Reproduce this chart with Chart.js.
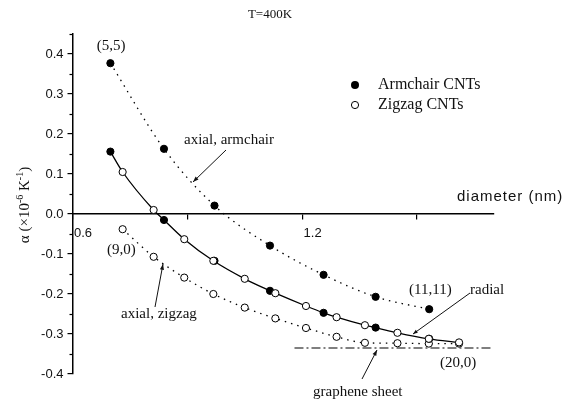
<!DOCTYPE html>
<html><head><meta charset="utf-8">
<script src="https://cdn.jsdelivr.net/npm/chart.js@4.4.0/dist/chart.umd.min.js"></script>
<style>html,body{margin:0;padding:0;background:#fff}#wrap{width:574px;height:402px}</style>
</head><body><div id="wrap"><canvas id="c" width="574" height="402"></canvas></div>
<script>
// ---- data ----
const armchairDiameter = [0.699, 0.839, 0.971, 1.116, 1.256, 1.392, 1.532];
const armchairAxial    = [0.377, 0.163, 0.021, -0.079, -0.152, -0.207, -0.238];
const armchairRadial   = [0.156, -0.015, -0.117, -0.192, -0.247, -0.284, -0.312];
const zigzagDiameter   = [0.731, 0.812, 0.892, 0.968, 1.050, 1.130, 1.210, 1.290, 1.364, 1.449, 1.531, 1.610];
const zigzagRadial     = [0.105, 0.010, -0.063, -0.117, -0.162, -0.198, -0.230, -0.258, -0.278, -0.297, -0.312, -0.321];
const zigzagAxial      = [-0.038, -0.107, -0.159, -0.200, -0.234, -0.261, -0.285, -0.307, -0.322, -0.323, -0.324, -0.324];
const grapheneDiameter = [1.18, 1.70];
const grapheneValue    = [-0.335, -0.335];
const xLabeledTicks    = [0.6, 1.2];
const yMinorTicks      = [-0.35, -0.25, -0.15, -0.05, 0.05, 0.15, 0.25, 0.35, 0.45];

const pts = (xs, ys) => xs.map((x, i) => ({x, y: ys[i]}));
// one smooth radial curve through both tube families
const radialAll = pts(armchairDiameter, armchairRadial).concat(pts(zigzagDiameter, zigzagRadial))
  .sort((a, b) => a.x - b.x)
  .filter((p, i, arr) => i === 0 || p.x - arr[i - 1].x > 0.01);

const SERIF = '"Liberation Serif", "Times New Roman", serif';
const SANS = '"Liberation Sans", Arial, sans-serif';

function arrow(ctx, x1, y1, x2, y2, head) {
  ctx.beginPath(); ctx.moveTo(x1, y1); ctx.lineTo(x2, y2); ctx.stroke();
  if (!head) return;
  const a = Math.atan2(y2 - y1, x2 - x1);
  ctx.beginPath();
  ctx.moveTo(x2, y2);
  ctx.lineTo(x2 - head * Math.cos(a - 0.35), y2 - head * Math.sin(a - 0.35));
  ctx.lineTo(x2 - head * Math.cos(a + 0.35), y2 - head * Math.sin(a + 0.35));
  ctx.closePath(); ctx.fill();
}

const annotations = {
  id: 'annotations',
  afterDraw(chart) {
    const ctx = chart.ctx;
    const ys = chart.scales.y;
    const axisX = chart.chartArea.left;
    ctx.save();
    ctx.strokeStyle = '#000'; ctx.fillStyle = '#000'; ctx.lineWidth = 1.2;
    // minor y ticks
    yMinorTicks.forEach(v => {
      const py = Math.round(ys.getPixelForValue(v)) + 0.5;
      ctx.beginPath(); ctx.moveTo(axisX - 3, py); ctx.lineTo(axisX, py); ctx.stroke();
    });
    ctx.fillStyle = '#111';
    ctx.textBaseline = 'middle';
    ctx.textAlign = 'center';
    ctx.font = '13px ' + SERIF;
    ctx.fillText('T=400K', 270, 15);
    ctx.font = '15px ' + SERIF;
    ctx.fillText('(5,5)', 111, 46);
    ctx.textAlign = 'left';
    ctx.fillText('axial, armchair', 184, 140);
    ctx.fillText('(9,0)', 107, 250);
    ctx.fillText('axial, zigzag', 121, 314);
    ctx.fillText('(11,11)', 409, 290);
    ctx.fillText('radial', 470, 290);
    ctx.fillText('(20,0)', 440, 363);
    ctx.fillText('graphene sheet', 313, 392);
    // arrows
    ctx.lineWidth = 1; ctx.strokeStyle = '#111';
    arrow(ctx, 226, 150, 193, 182, 6);
    arrow(ctx, 155, 307, 163, 264, 6);
    arrow(ctx, 470, 293, 413, 334, 5);
    arrow(ctx, 362, 379, 377, 350, 6);
    // x axis title
    ctx.font = '15px ' + SANS;
    try { ctx.letterSpacing = '1px'; } catch (e) {}
    ctx.fillText('diameter (nm)', 457, 197);
    try { ctx.letterSpacing = '0px'; } catch (e) {}
    // legend
    ctx.font = '16px ' + SERIF;
    ctx.beginPath(); ctx.arc(355, 85, 4, 0, Math.PI * 2); ctx.fillStyle = '#000'; ctx.fill();
    ctx.beginPath(); ctx.arc(355, 105, 3.6, 0, Math.PI * 2); ctx.fillStyle = '#fff'; ctx.fill();
    ctx.lineWidth = 1; ctx.strokeStyle = '#000'; ctx.stroke();
    ctx.fillStyle = '#111';
    ctx.fillText('Armchair CNTs', 378, 85);
    ctx.fillText('Zigzag CNTs', 378, 105);
    // y axis title (rotated, with superscripts)
    ctx.translate(25, 205);
    ctx.rotate(-Math.PI / 2);
    const parts = [['α (×10', 15, 0], ['-6', 10, -5], [' K', 15, 0], ['-1', 10, -5], [')', 15, 0]];
    let total = 0;
    parts.forEach(p => { ctx.font = p[1] + 'px ' + SERIF; total += ctx.measureText(p[0]).width; });
    let x = -total / 2;
    parts.forEach(p => {
      ctx.font = p[1] + 'px ' + SERIF;
      ctx.fillText(p[0], x, p[2]);
      x += ctx.measureText(p[0]).width;
    });
    ctx.restore();
  }
};

const filled = {pointRadius: 3.6, pointHoverRadius: 3.6, pointBackgroundColor: '#000', pointBorderColor: '#000', pointBorderWidth: 1};
const open = {pointRadius: 3.6, pointHoverRadius: 3.6, pointBackgroundColor: '#fff', pointBorderColor: '#000', pointBorderWidth: 1};

new Chart(document.getElementById('c'), {
  type: 'line',
  data: {
    datasets: [
      Object.assign({label: 'Zigzag radial', data: pts(zigzagDiameter, zigzagRadial), showLine: false}, open),
      Object.assign({label: 'Armchair radial', data: pts(armchairDiameter, armchairRadial), showLine: false}, filled),
      Object.assign({label: 'Zigzag axial', data: pts(zigzagDiameter, zigzagAxial), borderColor: '#000', borderWidth: 1.3,
        borderDash: [1.5, 5], cubicInterpolationMode: 'monotone'}, open),
      Object.assign({label: 'Armchair axial', data: pts(armchairDiameter, armchairAxial), borderColor: '#000', borderWidth: 1.3,
        borderDash: [1.5, 5], cubicInterpolationMode: 'monotone'}, filled),
      {label: 'Radial', data: radialAll, borderColor: '#000', borderWidth: 1.3, pointRadius: 0, cubicInterpolationMode: 'monotone'},
      {label: 'Graphene sheet', data: pts(grapheneDiameter, grapheneValue), borderColor: '#000', borderWidth: 1.2,
        borderDash: [9, 3, 2, 3], pointRadius: 0}
    ]
  },
  options: {
    responsive: false, animation: false, devicePixelRatio: 1,
    layout: {padding: {left: 0, right: 80.5, top: 34, bottom: 28}},
    plugins: {legend: {display: false}, tooltip: {enabled: false}},
    scales: {
      x: {
        type: 'linear', position: {y: 0}, min: 0.6, max: 1.7,
        ticks: {stepSize: 0.3, includeBounds: false, autoSkip: false, maxRotation: 0,
          callback: v => xLabeledTicks.some(t => Math.abs(t - v) < 1e-6) ? v.toFixed(1) : '',
          labelOffset: 10.5, padding: 7, color: '#111', font: {family: SANS, size: 13}},
        grid: {drawOnChartArea: false, drawTicks: true, tickLength: 5, color: '#000', lineWidth: 1.2},
        border: {display: true, color: '#000', width: 1.5}
      },
      y: {
        type: 'linear', min: -0.4, max: 0.45,
        afterFit: s => { s.width = 72.5; },
        ticks: {stepSize: 0.1, includeBounds: false, callback: v => v.toFixed(1),
          padding: 4, color: '#111', font: {family: SANS, size: 13}},
        grid: {drawOnChartArea: false, drawTicks: true, tickLength: 5, color: '#000', lineWidth: 1.2},
        border: {display: true, color: '#000', width: 1.5}
      }
    }
  },
  plugins: [annotations]
});
</script></body></html>
